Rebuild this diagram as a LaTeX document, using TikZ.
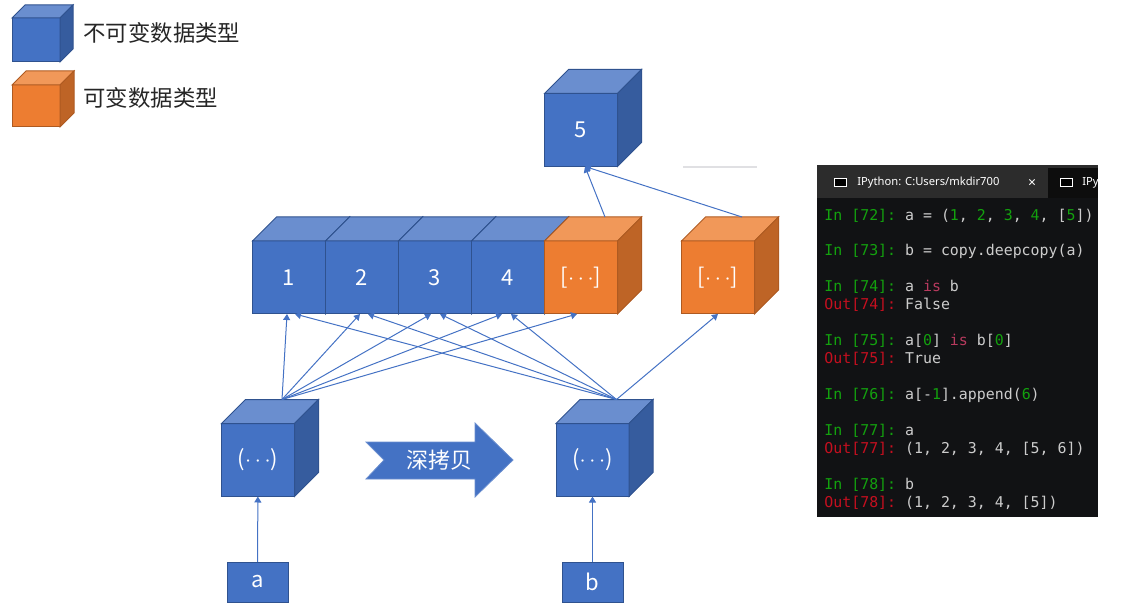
\documentclass[tikz,border=0pt]{standalone}
\usepackage{fontspec}
\setmainfont{Noto Sans CJK SC}
\setmonofont{DejaVu Sans Mono}
\newfontfamily\tabfont{Noto Sans}
\usetikzlibrary{positioning, arrows.meta}

\definecolor{bluefront}{HTML}{4472C4}
\definecolor{bluetop}{HTML}{6A8ECF}
\definecolor{blueside}{HTML}{365C9E}
\definecolor{blueedge}{HTML}{2F528F}
\definecolor{orangefront}{HTML}{ED7D31}
\definecolor{orangetop}{HTML}{F19859}
\definecolor{orangeside}{HTML}{BE6426}
\definecolor{orangeedge}{HTML}{AE5A21}
\definecolor{termbg}{HTML}{111214}
\definecolor{termbar}{HTML}{2C2C2C}
\definecolor{termtext}{HTML}{CCCCCC}
\definecolor{termgreen}{HTML}{13A10E}
\definecolor{termred}{HTML}{C50F1F}
\definecolor{termkw}{HTML}{B83A5E}

% terminal colouring
\newcommand{\num}[1]{\textcolor{termgreen}{#1}}
\newcommand{\kw}[1]{\textcolor{termkw}{#1}}
\newcommand{\inp}[1]{\textcolor{termgreen}{In [#1]:} }
\newcommand{\outp}[1]{\textcolor{termred}{Out[#1]:} }
\newcommand{\elide}{\(\cdots\)}

% top and side faces of a cube drawn on a front node
\newcommand{\cubefaces}[3][24]{%
  \filldraw[fill=#3top, draw=#3edge, line width=0.5pt] (#2.north west) -- ++(#1,-#1)
    -- ([shift={(#1,-#1)}]#2.north east) -- (#2.north east) -- cycle;
  \filldraw[fill=#3side, draw=#3edge, line width=0.5pt] (#2.north east) -- ++(#1,-#1)
    -- ([shift={(#1,-#1)}]#2.south east) -- (#2.south east) -- cycle;}

\tikzset{
  cube/.style={rectangle, draw=#1edge, fill=#1front, line width=0.5pt,
    minimum width=36.5pt, minimum height=36.5pt, inner sep=0pt, outer sep=0pt,
    text=white, font=\fontsize{11}{13}\selectfont},
  var/.style={cube=blue, minimum width=30.5pt, minimum height=20pt},
  legend/.style={anchor=west, inner sep=0pt, text=black!85, font=\fontsize{11.2}{13}\selectfont},
  link/.style={bluefront, line width=0.5pt, -{Triangle[length=3pt, width=3.5pt]}},
  code/.style={anchor=west, inner sep=0pt, text=termtext, font=\ttfamily\fontsize{7.45}{9}\selectfont},
}

\begin{document}
\begin{tikzpicture}[x=0.5pt, y=-0.5pt]
\useasboundingbox (0,0) rectangle (1121,615);

% legend
\node (keyblue) [cube=blue, minimum width=24pt, minimum height=22pt] at (36,40) {};
\cubefaces[13]{keyblue}{blue}
\node (keyorange) [cube=orange, minimum width=24pt, minimum height=21pt] at (36,106) {};
\cubefaces[14]{keyorange}{orange}
\node [legend] (keyblueText) at (83,33) {不可变数据类型};
\node [legend] (keyorangeText) at (83,98) {可变数据类型};

% the inner list object
\node (five) [cube=blue] at (581,130) {5};
\cubefaces{five}{blue}

% tuple a
\node (x1) [cube=blue] at (289,277.5) {1};
\cubefaces{x1}{blue}
\node (x2) [cube=blue, right = 0pt of x1] {2};
\cubefaces{x2}{blue}
\node (x3) [cube=blue, right = 0pt of x2] {3};
\cubefaces{x3}{blue}
\node (x4) [cube=blue, right = 0pt of x3] {4};
\cubefaces{x4}{blue}
\node (x5) [cube=orange, right = 0pt of x4] {[\elide]};
\cubefaces{x5}{orange}

% copied list in b
\node (y5) [cube=orange] at (718,277.5) {[\elide]};
\cubefaces{y5}{orange}

% the two tuples
\node (ta) [cube=blue] at (258,460) {(\elide)};
\cubefaces{ta}{blue}
\node (tb) [cube=blue] at (592.5,460) {(\elide)};
\cubefaces{tb}{blue}
\coordinate (taTop) at ([shift={(24,-24)}]ta.north);
\coordinate (tbTop) at ([shift={(24,-24)}]tb.north);
\coordinate (x5Top) at ([shift={(24,-24)}]x5.north);
\coordinate (y5Top) at ([shift={(24,-24)}]y5.north);

% names
\node (a) [var] at (257.5,582) {a};
\node (b) [var] at (592.5,582) {b};

% deep copy arrow
\filldraw[fill=bluefront, draw=bluetop, line width=0.4pt]
  (366,442) -- (475,442) -- (475,423) -- (513,460) -- (475,497)
  -- (475,479) -- (366,479) -- (384,460) -- cycle;
\node (copy) [text=white, font=\fontsize{11}{13}\selectfont] at (439,460) {深拷贝};

\draw[color=blue!8!black!12, line width=1pt] (683,167) -- (757,167);

\path [link]
    (a) edge (ta)
    (b) edge (tb)
    (taTop) edge ([xshift=-1pt]x1.south)
    (taTop) edge ([xshift=-1pt]x2.south)
    (taTop) edge ([xshift=-2pt]x3.south)
    (taTop) edge ([xshift=-3pt]x4.south)
    (taTop) edge ([xshift=-2pt]x5.south)
    (tbTop) edge ([xshift=3pt]x1.south)
    (tbTop) edge ([xshift=3pt]x2.south)
    (tbTop) edge ([xshift=2.5pt]x3.south)
    (tbTop) edge ([xshift=1.5pt]x4.south)
    (tbTop) edge (y5.south)
    (x5Top) edge ([xshift=2pt]five.south)
    (y5Top) edge ([xshift=2pt]five.south);

% ipython terminal
\fill[termbg] (817,165) rectangle (1098,517);
\fill[termbar] (817,165) rectangle (1098,198);
\fill[black!95] (1048,168) rectangle (1098,198);
\filldraw[fill=black, draw=white!80, line width=0.5pt] (834,179) rectangle (846,187);
\filldraw[fill=black, draw=white!80, line width=0.5pt] (1060,179) rectangle (1072,187);
\node (tab1) [anchor=west, inner sep=0pt, text=white!85, font=\tabfont\fontsize{5.6}{7}\selectfont] at (857,183) {IPython: C:Users/mkdir700};
\node (tabClose) [text=white!60, font=\tabfont\fontsize{7}{8}\selectfont] at (1032,183) {×};
\begin{scope}
\clip (1048,168) rectangle (1098,198);
\node (tab2) [anchor=west, inner sep=0pt, text=white!85, font=\tabfont\fontsize{5.6}{7}\selectfont] at (1082,183) {IPython};
\end{scope}

\node [code] (l72) at (824,216) {\inp{72}a = (\num{1}, \num{2}, \num{3}, \num{4}, [\num{5}])};
\node [code] (l73) at (824,251) {\inp{73}b = copy.deepcopy(a)};
\node [code] (l74) at (824,287) {\inp{74}a \kw{is} b};
\node [code] (o74) at (824,305) {\outp{74}False};
\node [code] (l75) at (824,341) {\inp{75}a[\num{0}] \kw{is} b[\num{0}]};
\node [code] (o75) at (824,359) {\outp{75}True};
\node [code] (l76) at (824,395) {\inp{76}a[-\num{1}].append(\num{6})};
\node [code] (l77) at (824,431) {\inp{77}a};
\node [code] (o77) at (824,449) {\outp{77}(1, 2, 3, 4, [5, 6])};
\node [code] (l78) at (824,485) {\inp{78}b};
\node [code] (o78) at (824,503) {\outp{78}(1, 2, 3, 4, [5])};
\end{tikzpicture}
\end{document}
